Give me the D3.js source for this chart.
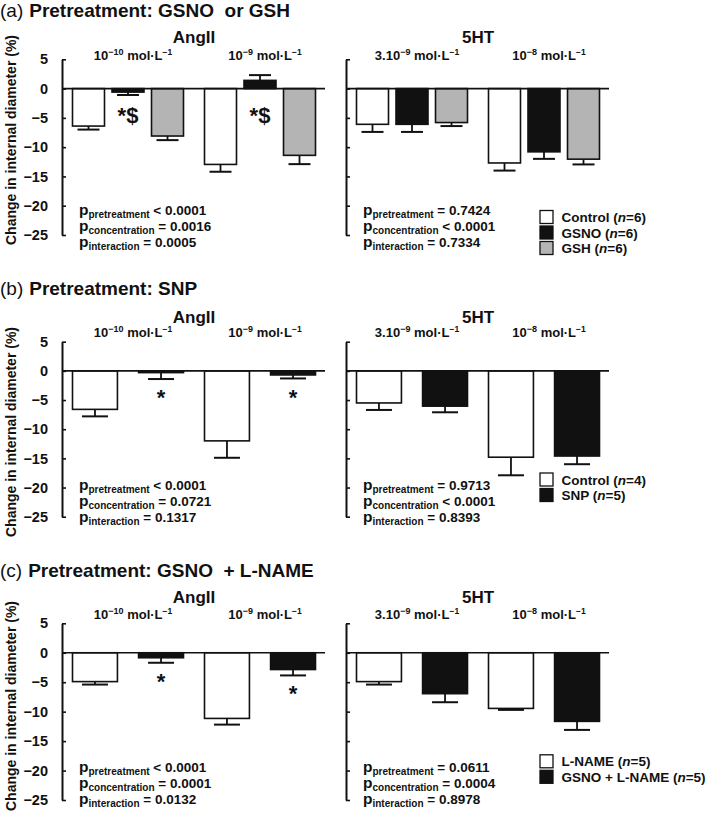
<!DOCTYPE html>
<html><head><meta charset="utf-8">
<script src="https://cdn.jsdelivr.net/npm/d3@7"></script>
<style>
body{margin:0;background:#fff}
svg{display:block}
text{font-family:"Liberation Sans",Arial,sans-serif;font-weight:bold;fill:#111}
</style>
</head><body>
<svg id="c" width="709" height="816"></svg>
<script>
// ---------- DATA ----------
const yTicks = [5, 0, -5, -10, -15, -20, -25];
const drugs = ["AngII", "5HT"];
const concAngIIBase = ["10", "10"];
const concAngIIExp = ["−10", "−9"];
const conc5HTBase = ["3.10", "10"];
const conc5HTExp = ["−9", "−8"];
const pLabels = ["pretreatment", "concentration", "interaction"];

// (a) GSNO or GSH
const seriesA = ["Control", "GSNO", "GSH"];
const nA = [6, 6, 6];
const angA_mean = [[-6.4, -0.6, -8.1], [-12.95, 1.4, -11.4]];
const angA_sem  = [[0.6, 0.5, 0.7], [1.25, 0.9, 1.5]];
const angA_sig  = [["", "*$", ""], ["", "*$", ""]];
const htA_mean  = [[-6.1, -6.1, -5.8], [-12.7, -10.8, -12.05]];
const htA_sem   = [[1.3, 1.3, 0.6], [1.3, 1.2, 0.9]];
const pA_ang = ["< 0.0001", "= 0.0016", "= 0.0005"];
const pA_ht  = ["= 0.7424", "< 0.0001", "= 0.7334"];

// (b) SNP
const seriesB = ["Control", "SNP"];
const nB = [4, 5];
const angB_mean = [[-6.6, -0.3], [-12.0, -0.7]];
const angB_sem  = [[1.2, 1.1], [2.9, 0.6]];
const angB_sig  = [["", "*"], ["", "*"]];
const htB_mean  = [[-5.5, -6.05], [-14.8, -14.6]];
const htB_sem   = [[1.2, 1.05], [3.1, 1.4]];
const pB_ang = ["< 0.0001", "= 0.0721", "= 0.1317"];
const pB_ht  = ["= 0.9713", "< 0.0001", "= 0.8393"];

// (c) GSNO + L-NAME
const seriesC = ["L-NAME", "GSNO + L-NAME"];
const nC = [5, 5];
const angC_mean = [[-4.9, -0.85], [-11.15, -2.85]];
const angC_sem  = [[0.5, 0.85], [1.05, 1.0]];
const angC_sig  = [["", "*"], ["", "*"]];
const htC_mean  = [[-4.9, -6.95], [-9.45, -11.65]];
const htC_sem   = [[0.5, 1.45], [0.25, 1.45]];
const pC_ang = ["< 0.0001", "= 0.0001", "= 0.0132"];
const pC_ht  = ["= 0.0611", "= 0.0004", "= 0.8978"];

// ---------- STYLE / LAYOUT ----------
const FILL = {"Control":"#ffffff","GSNO":"#111111","GSH":"#b4b4b4","SNP":"#111111","L-NAME":"#ffffff","GSNO + L-NAME":"#111111"};
const AX = [62, 346];
const PW = 264;

const panels = [
  {letter:"(a)", title:"Pretreatment: GSNO  or GSH", series:seriesA, n:nA,
   data:[{mean:angA_mean, sem:angA_sem, sig:angA_sig, p:pA_ang},{mean:htA_mean, sem:htA_sem, sig:null, p:pA_ht}],
   yTop:59.3, yBot:235, titleY:16.7, drugY:43.3, concY:60, ylabY:140, pY:215, legY:217, capW:22, pad:0.19},
  {letter:"(b)", title:"Pretreatment: SNP", series:seriesB, n:nB,
   data:[{mean:angB_mean, sem:angB_sem, sig:angB_sig, p:pB_ang},{mean:htB_mean, sem:htB_sem, sig:null, p:pB_ht}],
   yTop:341.7, yBot:516.7, titleY:295, drugY:323.3, concY:337, ylabY:432, pY:490, legY:479.5, capW:26, pad:0.32},
  {letter:"(c)", title:"Pretreatment: GSNO  + L-NAME", series:seriesC, n:nC,
   data:[{mean:angC_mean, sem:angC_sem, sig:angC_sig, p:pC_ang},{mean:htC_mean, sem:htC_sem, sig:null, p:pC_ht}],
   yTop:623.3, yBot:800, titleY:577, drugY:603.3, concY:618.5, ylabY:706, pY:772, legY:761.3, capW:26, pad:0.32}
];

const svg = d3.select("#c");
const fmt = d => d < 0 ? "−" + (-d) : String(d);

panels.forEach(P => {
  const y = d3.scaleLinear().domain([5, -25]).range([P.yTop, P.yBot]);
  const x0 = d3.scaleBand().domain([0, 1]).range([0, PW]);
  const x1 = d3.scaleBand().domain(P.series).range([10.5, 121.5]).paddingInner(P.pad);

  // panel title
  const t = svg.append("text").attr("x", 0).attr("y", P.titleY).attr("font-size", 19)
    .attr("xml:space", "preserve");
  t.append("tspan").attr("font-weight", "normal").text(P.letter);
  t.append("tspan").attr("dx", 6).text(P.title);

  // y axis label
  svg.append("text")
    .attr("transform", `translate(11,${P.ylabY}) rotate(-90)`)
    .attr("text-anchor", "middle").attr("dominant-baseline", "central")
    .attr("font-size", 14).text("Change in internal diameter (%)");

  [0, 1].forEach(k => {
    const ax = AX[k];
    const D = P.data[k];
    const g = svg.append("g").attr("transform", `translate(${ax},0)`);

    // drug title
    g.append("text").attr("x", PW / 2).attr("y", P.drugY).attr("text-anchor", "middle")
      .attr("font-size", 17).text(drugs[k]);

    // concentration labels
    const bases = k === 0 ? concAngIIBase : conc5HTBase;
    const exps = k === 0 ? concAngIIExp : conc5HTExp;
    [0, 1].forEach(c => {
      const ct = g.append("text").attr("x", x0(c) + x0.bandwidth() / 2 + 5).attr("y", P.concY)
        .attr("text-anchor", "middle").attr("font-size", 13);
      ct.append("tspan").text(bases[c]);
      ct.append("tspan").attr("font-size", 9).attr("dy", -5).text(exps[c]);
      ct.append("tspan").attr("dy", 5).text(" mol·L");
      ct.append("tspan").attr("font-size", 8.5).attr("dy", -5).text("−1");
    });

    // axis
    const axis = d3.axisLeft(y).tickValues(yTicks).tickSize(-4).tickSizeOuter(0).tickPadding(14)
      .tickFormat(k === 0 ? fmt : () => "");
    const ag = g.append("g").call(axis);
    ag.attr("font-family", null);
    ag.select(".domain").attr("stroke", "#111").attr("stroke-width", 2);
    ag.selectAll(".tick line").attr("stroke", "#111").attr("stroke-width", 1.6);
    ag.selectAll(".tick text").attr("font-size", 14.5).attr("fill", "#111");

    // bars
    [0, 1].forEach(c => {
      P.series.forEach((s, i) => {
        const m = D.mean[c][i], se = D.sem[c][i];
        const bx = x0(c) + x1(s), bw = x1.bandwidth();
        const end = m < 0 ? m - se : m + se;
        const cx = bx + bw / 2;
        // error bar
        g.append("line").attr("x1", cx).attr("x2", cx).attr("y1", y(m)).attr("y2", y(end))
          .attr("stroke", "#111").attr("stroke-width", 1.8);
        g.append("line").attr("x1", cx - P.capW / 2).attr("x2", cx + P.capW / 2).attr("y1", y(end)).attr("y2", y(end))
          .attr("stroke", "#111").attr("stroke-width", 2);
        g.append("rect").attr("x", bx).attr("width", bw)
          .attr("y", y(Math.max(0, m))).attr("height", Math.abs(y(m) - y(0)))
          .attr("fill", FILL[s]).attr("stroke", "#111").attr("stroke-width", 1.6);
        // significance marks
        if (D.sig && D.sig[c][i]) {
          const cy = Math.max(y(Math.min(0, end)) + 18, y(0) + 26);
          g.append("text").attr("x", cx).attr("y", cy + 8).attr("text-anchor", "middle")
            .attr("font-size", 22).text(D.sig[c][i]);
        }
      });
    });

    // zero line
    g.append("line").attr("x1", 0).attr("x2", PW - 1).attr("y1", y(0)).attr("y2", y(0))
      .attr("stroke", "#111").attr("stroke-width", 1.6);

    // p-values
    D.p.forEach((pv, r) => {
      const pt = g.append("text").attr("x", 17).attr("y", P.pY + r * 16).attr("font-size", 13.5);
      pt.append("tspan").attr("font-size", 15.5).text("p");
      pt.append("tspan").attr("font-size", 10).attr("dy", 3).text(pLabels[r]);
      pt.append("tspan").attr("dy", -3).text(" " + pv);
    });
  });

  // legend
  const lg = svg.append("g").attr("transform", `translate(540,${P.legY})`);
  P.series.forEach((s, i) => {
    const row = lg.append("g").attr("transform", `translate(0,${i * 15.5})`);
    row.append("rect").attr("x", 0).attr("y", -6.5).attr("width", 13).attr("height", 13)
      .attr("fill", FILL[s]).attr("stroke", "#111").attr("stroke-width", 1.3);
    const lt = row.append("text").attr("x", 21.5).attr("y", 0).attr("dominant-baseline", "central")
      .attr("font-size", 13.5);
    lt.append("tspan").text(s + " (");
    lt.append("tspan").attr("font-style", "italic").text("n");
    lt.append("tspan").text("=" + P.n[i] + ")");
  });
});
</script>
</body></html>
